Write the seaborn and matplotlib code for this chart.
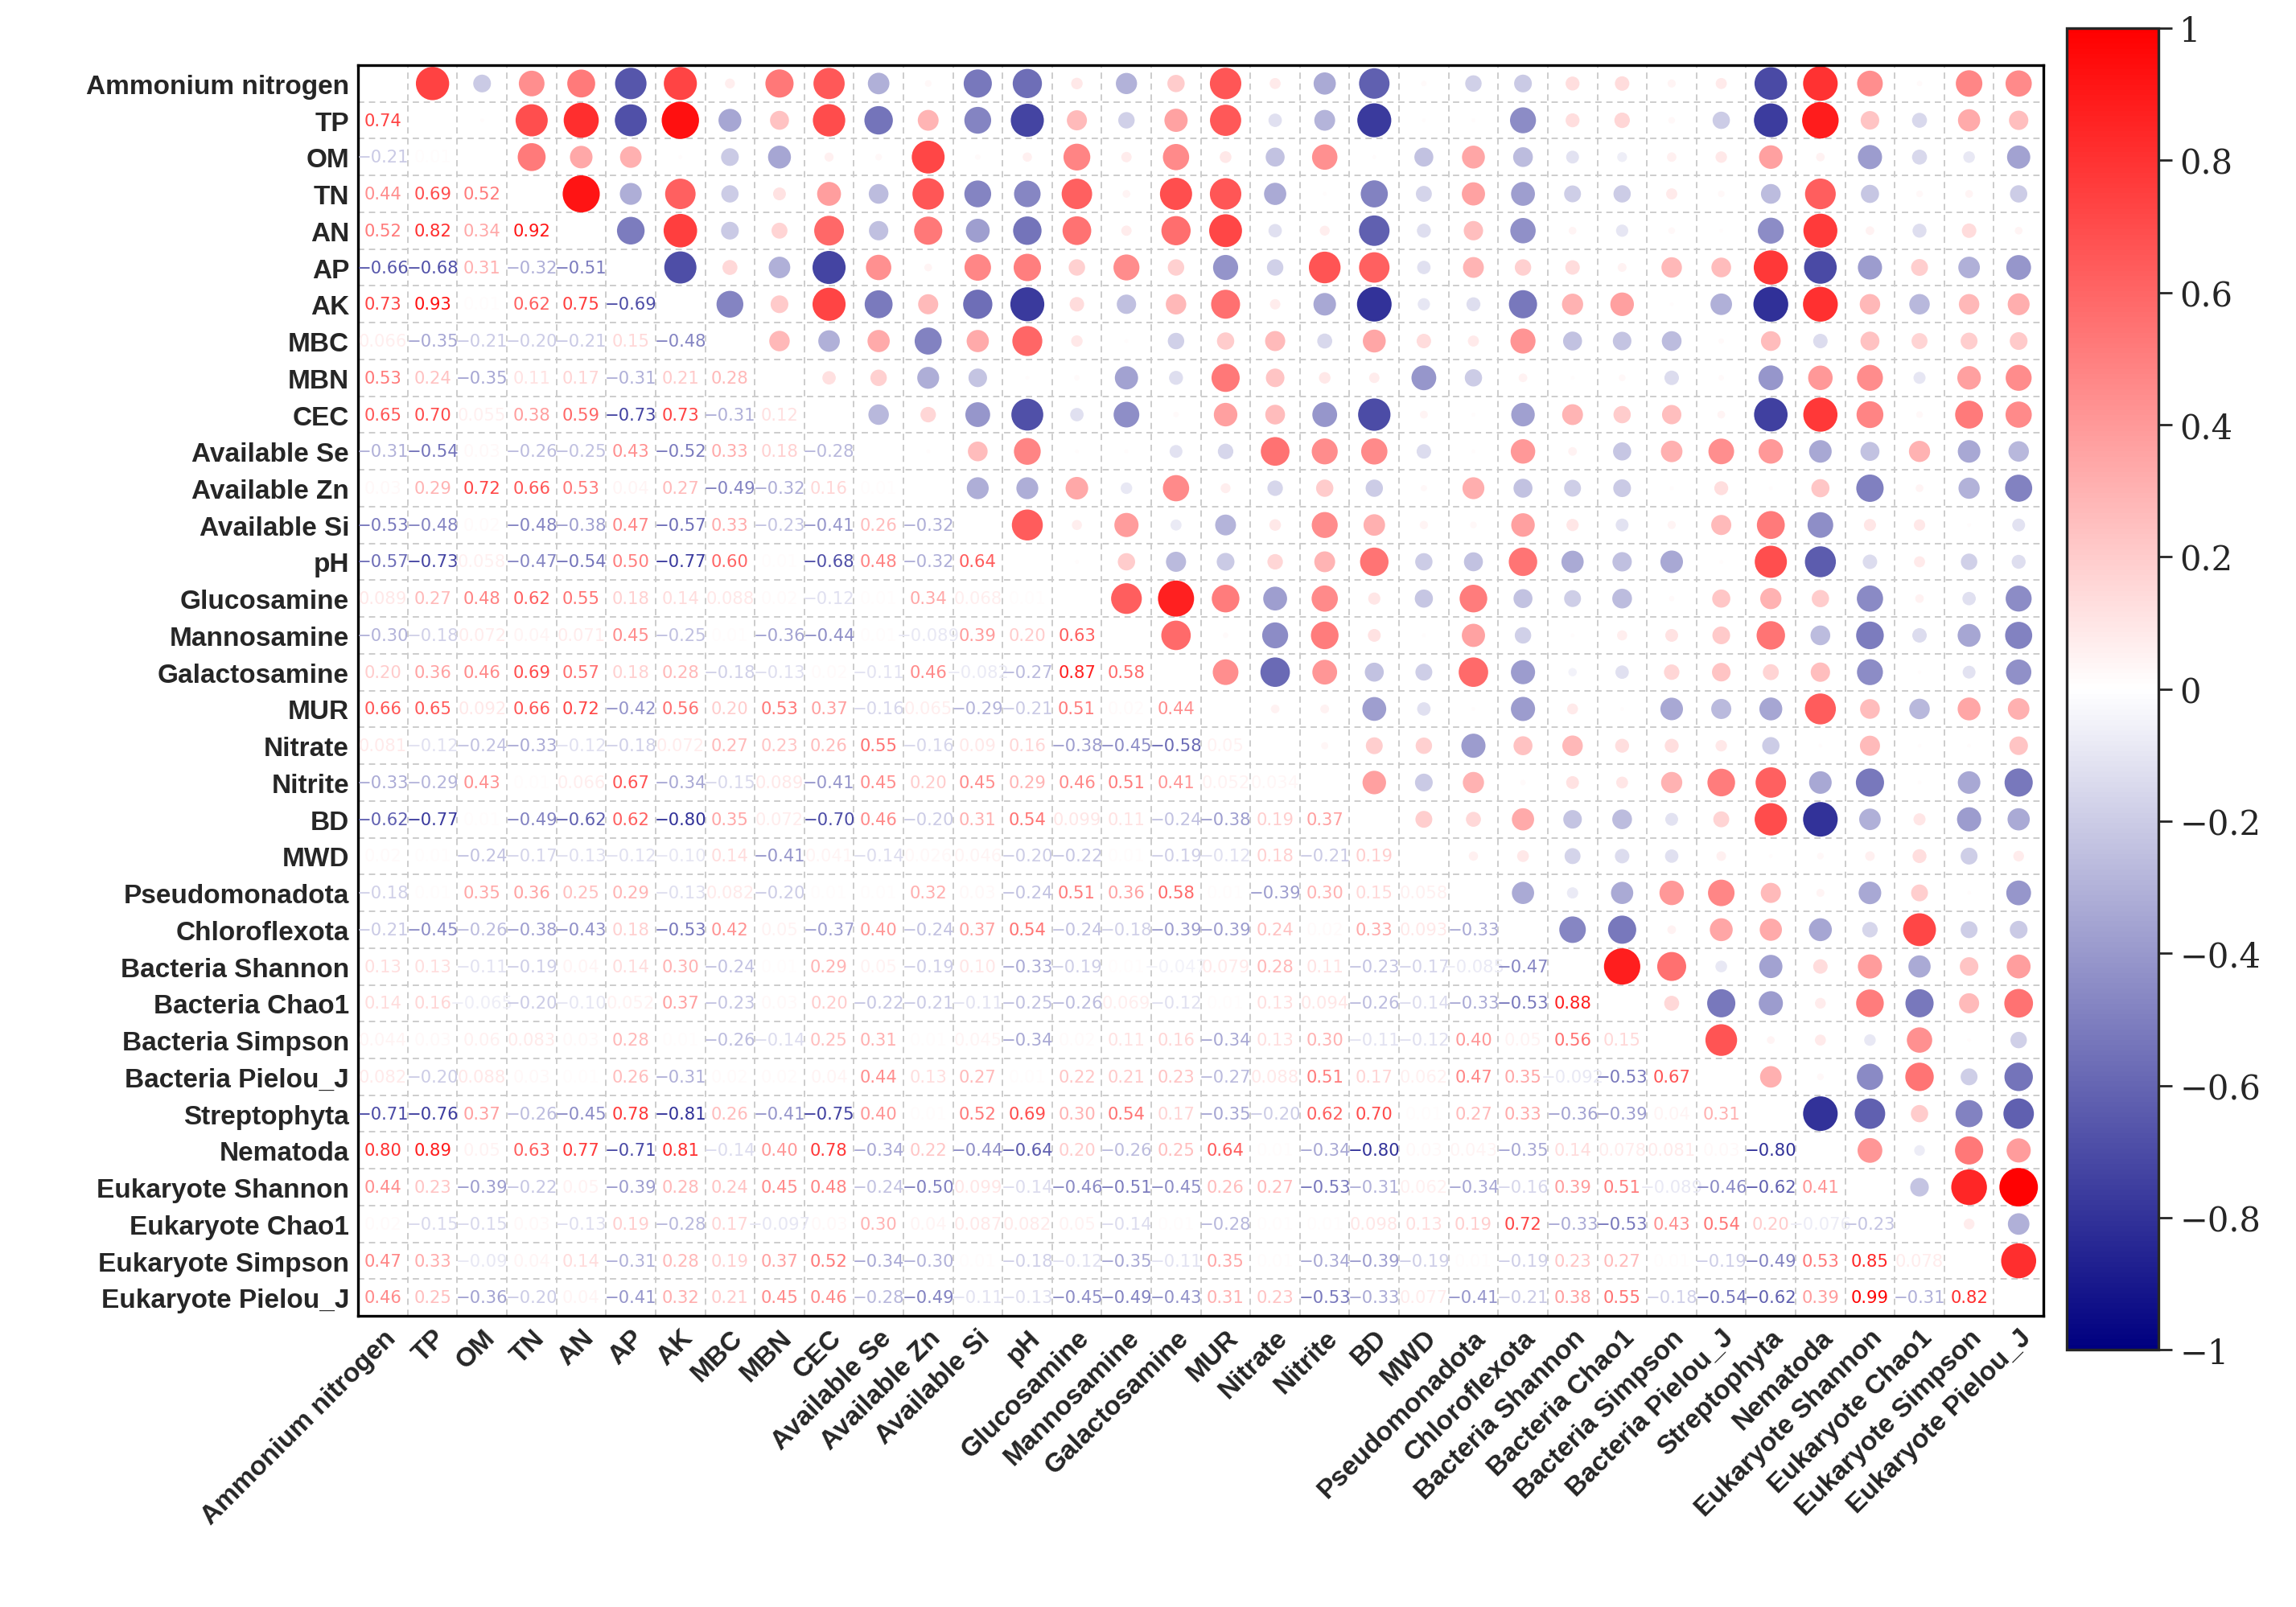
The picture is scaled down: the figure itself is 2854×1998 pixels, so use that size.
import matplotlib

matplotlib.use("Agg")

import matplotlib.pyplot as plt
import numpy as np
import pandas as pd
import seaborn as sns
from matplotlib.colors import LinearSegmentedColormap, Normalize

LABELS = [
    "Ammonium nitrogen", "TP", "OM", "TN", "AN", "AP", "AK", "MBC", "MBN", "CEC",
    "Available Se", "Available Zn", "Available Si", "pH", "Glucosamine", "Mannosamine",
    "Galactosamine", "MUR", "Nitrate", "Nitrite", "BD", "MWD", "Pseudomonadota",
    "Chloroflexota", "Bacteria Shannon", "Bacteria Chao1", "Bacteria Simpson",
    "Bacteria Pielou_J", "Streptophyta", "Nematoda", "Eukaryote Shannon",
    "Eukaryote Chao1", "Eukaryote Simpson", "Eukaryote Pielou_J",
]

# lower triangle, row i holds r(i, 0..i-1); 0.01 marks cells left blank in the source
LOWER = [
    [0.74],
    [-0.21, 0.01],
    [0.44, 0.69, 0.52],
    [0.52, 0.82, 0.34, 0.92],
    [-0.66, -0.68, 0.31, -0.32, -0.51],
    [0.73, 0.93, 0.01, 0.62, 0.75, -0.69],
    [0.066, -0.35, -0.21, -0.20, -0.21, 0.15, -0.48],
    [0.53, 0.24, -0.35, 0.11, 0.17, -0.31, 0.21, 0.28],
    [0.65, 0.70, 0.055, 0.38, 0.59, -0.73, 0.73, -0.31, 0.12],
    [-0.31, -0.54, 0.03, -0.26, -0.25, 0.43, -0.52, 0.33, 0.18, -0.28],
    [0.03, 0.29, 0.72, 0.66, 0.53, 0.04, 0.27, -0.49, -0.32, 0.16, 0.01],
    [-0.53, -0.48, 0.02, -0.48, -0.38, 0.47, -0.57, 0.33, -0.23, -0.41, 0.26, -0.32],
    [-0.57, -0.73, 0.058, -0.47, -0.54, 0.50, -0.77, 0.60, 0.01, -0.68, 0.48, -0.32, 0.64],
    [0.089, 0.27, 0.48, 0.62, 0.55, 0.18, 0.14, 0.088, 0.02, -0.12, 0.01, 0.34, 0.068, 0.01],
    [-0.30, -0.18, 0.072, 0.04, 0.071, 0.45, -0.25, 0.01, -0.36, -0.44, 0.01, -0.089, 0.39,
     0.20, 0.63],
    [0.20, 0.36, 0.46, 0.69, 0.57, 0.18, 0.28, -0.18, -0.13, 0.02, -0.11, 0.46, -0.082, -0.27,
     0.87, 0.58],
    [0.66, 0.65, 0.092, 0.66, 0.72, -0.42, 0.56, 0.20, 0.53, 0.37, -0.16, 0.065, -0.29, -0.21,
     0.51, 0.02, 0.44],
    [0.081, -0.12, -0.24, -0.33, -0.12, -0.18, 0.072, 0.27, 0.23, 0.26, 0.55, -0.16, 0.090,
     0.16, -0.38, -0.45, -0.58, 0.050],
    [-0.33, -0.29, 0.43, 0.01, 0.066, 0.67, -0.34, -0.15, 0.089, -0.41, 0.45, 0.20, 0.45, 0.29,
     0.46, 0.51, 0.41, 0.052, 0.034],
    [-0.62, -0.77, 0.01, -0.49, -0.62, 0.62, -0.80, 0.35, 0.072, -0.70, 0.46, -0.20, 0.31, 0.54,
     0.099, 0.11, -0.24, -0.38, 0.19, 0.37],
    [0.02, 0.01, -0.24, -0.17, -0.13, -0.12, -0.10, 0.14, -0.41, 0.041, -0.14, 0.026, 0.046,
     -0.20, -0.22, 0.01, -0.19, -0.12, 0.18, -0.21, 0.19],
    [-0.18, 0.01, 0.35, 0.36, 0.25, 0.29, -0.13, 0.082, -0.20, 0.01, 0.01, 0.32, 0.03, -0.24,
     0.51, 0.36, 0.58, 0.01, -0.39, 0.30, 0.15, 0.058],
    [-0.21, -0.45, -0.26, -0.38, -0.43, 0.18, -0.53, 0.42, 0.05, -0.37, 0.40, -0.24, 0.37, 0.54,
     -0.24, -0.18, -0.39, -0.39, 0.24, 0.02, 0.33, 0.093, -0.33],
    [0.13, 0.13, -0.11, -0.19, 0.04, 0.14, 0.30, -0.24, 0.01, 0.29, 0.05, -0.19, 0.10, -0.33,
     -0.19, 0.01, -0.047, 0.079, 0.28, 0.11, -0.23, -0.17, -0.085, -0.47],
    [0.14, 0.16, -0.065, -0.20, -0.10, 0.052, 0.37, -0.23, 0.03, 0.20, -0.22, -0.21, -0.11,
     -0.25, -0.26, 0.069, -0.12, 0.01, 0.13, 0.094, -0.26, -0.14, -0.33, -0.53, 0.88],
    [0.044, 0.03, 0.06, 0.083, 0.03, 0.28, 0.01, -0.26, -0.14, 0.25, 0.31, 0.01, 0.045, -0.34,
     0.02, 0.11, 0.16, -0.34, 0.13, 0.30, -0.11, -0.12, 0.40, 0.05, 0.56, 0.15],
    [0.082, -0.20, 0.088, 0.03, 0.01, 0.26, -0.31, 0.02, 0.02, 0.04, 0.44, 0.13, 0.27, 0.01,
     0.22, 0.21, 0.23, -0.27, 0.088, 0.51, 0.17, 0.062, 0.47, 0.35, -0.092, -0.53, 0.67],
    [-0.71, -0.76, 0.37, -0.26, -0.45, 0.78, -0.81, 0.26, -0.41, -0.75, 0.40, 0.01, 0.52, 0.69,
     0.30, 0.54, 0.17, -0.35, -0.20, 0.62, 0.70, 0.01, 0.27, 0.33, -0.36, -0.39, 0.04, 0.31],
    [0.80, 0.89, 0.05, 0.63, 0.77, -0.71, 0.81, -0.14, 0.40, 0.78, -0.34, 0.22, -0.44, -0.64,
     0.20, -0.26, 0.25, 0.64, 0.01, -0.34, -0.80, 0.03, 0.043, -0.35, 0.14, 0.078, 0.081, 0.03,
     -0.80],
    [0.44, 0.23, -0.39, -0.22, 0.05, -0.39, 0.28, 0.24, 0.45, 0.48, -0.24, -0.50, 0.099, -0.14,
     -0.46, -0.51, -0.45, 0.26, 0.27, -0.53, -0.31, 0.062, -0.34, -0.16, 0.39, 0.51, -0.089,
     -0.46, -0.62, 0.41],
    [0.02, -0.15, -0.15, 0.03, -0.13, 0.19, -0.28, 0.17, -0.097, 0.03, 0.30, 0.04, 0.087, 0.082,
     0.05, -0.14, 0.01, -0.28, 0.01, 0.01, 0.098, 0.13, 0.19, 0.72, -0.33, -0.53, 0.43, 0.54,
     0.20, -0.076, -0.23],
    [0.47, 0.33, -0.09, 0.04, 0.14, -0.31, 0.28, 0.19, 0.37, 0.52, -0.34, -0.30, 0.01, -0.18,
     -0.12, -0.35, -0.11, 0.35, 0.01, -0.34, -0.39, -0.19, 0.01, -0.19, 0.23, 0.27, 0.01, -0.19,
     -0.49, 0.53, 0.85, 0.078],
    [0.46, 0.25, -0.36, -0.20, 0.04, -0.41, 0.32, 0.21, 0.45, 0.46, -0.28, -0.49, -0.11, -0.13,
     -0.45, -0.49, -0.43, 0.31, 0.23, -0.53, -0.33, 0.077, -0.41, -0.21, 0.38, 0.55, -0.18,
     -0.54, -0.62, 0.39, 0.99, -0.31, 0.82],
]


def build_matrix() -> np.ndarray:
    n = len(LABELS)
    mat = np.eye(n)
    for i, row in enumerate(LOWER, start=1):
        for j, v in enumerate(row):
            mat[i, j] = v
            mat[j, i] = v
    return mat


def fmt(v: float) -> str:
    if abs(v) < 0.1:
        return f"{v:.2g}".replace("-", "\u2212")
    return f"{v:.2f}".replace("-", "\u2212")


def main() -> None:
    sns.set_theme(style="white")
    plt.rcParams["font.family"] = ["Liberation Sans", "DejaVu Sans"]
    cmap = LinearSegmentedColormap.from_list("bwr_dark", ["#000080", "#ffffff", "#ff0000"])
    norm = Normalize(-1, 1)

    mat = build_matrix()
    n = len(LABELS)
    rows = []
    for i in range(n):
        for j in range(i + 1, n):
            rows.append({"x": j, "y": i, "r": mat[i, j], "a": abs(mat[i, j])})
    upper = pd.DataFrame(rows)

    fig = plt.figure(figsize=(14.27, 9.995), dpi=200)
    ax = fig.add_axes([0.156, 0.181, 0.734, 0.778])
    sns.scatterplot(data=upper, x="x", y="y", hue="r", palette=cmap, hue_norm=norm,
                    size="a", sizes=(0, 300), size_norm=(0, 1), legend=False,
                    linewidth=0, ax=ax)

    for i in range(n):
        for j in range(i):
            v = mat[i, j]
            ax.text(j, i, fmt(v), ha="center", va="center", fontsize=7.6,
                    color=cmap(norm(v)), family=["Liberation Sans Narrow", "DejaVu Sans"])

    for k in np.arange(-0.5, n, 1.0):
        ax.axvline(k, color="#cccccc", lw=0.7, ls=(0, (4, 3)), zorder=0)
        ax.axhline(k, color="#cccccc", lw=0.7, ls=(0, (4, 3)), zorder=0)

    ax.set_xlim(-0.5, n - 0.5)
    ax.set_ylim(n - 0.5, -0.5)
    ax.set_xticks(range(n))
    ax.set_yticks(range(n))
    ax.set_xticklabels(LABELS, rotation=45, ha="right", rotation_mode="anchor",
                       fontsize=12, fontweight="bold")
    ax.set_yticklabels(LABELS, fontsize=12, fontweight="bold")
    ax.tick_params(length=0, pad=4)
    ax.set_xlabel("")
    ax.set_ylabel("")
    for sp in ax.spines.values():
        sp.set_visible(True)
        sp.set_color("black")
        sp.set_linewidth(1.2)

    cax = fig.add_axes([0.9, 0.16, 0.04, 0.822])
    sm = plt.cm.ScalarMappable(norm=norm, cmap=cmap)
    cb = fig.colorbar(sm, cax=cax, ticks=[-1, -0.8, -0.6, -0.4, -0.2, 0, 0.2, 0.4, 0.6, 0.8, 1])
    cb.ax.set_yticklabels(["\u22121", "\u22120.8", "\u22120.6", "\u22120.4", "\u22120.2", "0",
                           "0.2", "0.4", "0.6", "0.8", "1"], family="DejaVu Serif", fontsize=15)
    cb.ax.tick_params(length=6, width=1)
    cb.outline.set_linewidth(1.2)

    fig.savefig("out.png", dpi=200)
    plt.close(fig)


if __name__ == "__main__":
    main()
